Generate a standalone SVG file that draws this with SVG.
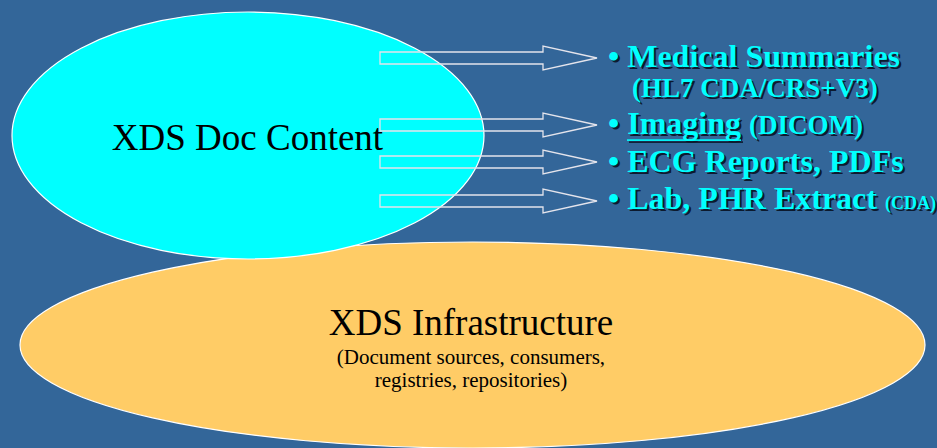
<svg xmlns="http://www.w3.org/2000/svg" xmlns:xlink="http://www.w3.org/1999/xlink" width="937" height="448" viewBox="0 0 937 448">
<style>
.bg{fill:#336699}
.ell{stroke:#ffffff;stroke-width:1.2}
.title{font-family:"Liberation Serif","Times New Roman",serif;fill:#000;text-anchor:middle}
.arrow{fill:none;stroke:#e4e4ec;stroke-width:1.3}
.item{font-family:"Liberation Serif","Times New Roman",serif;font-weight:bold;font-size:32px;fill:#00ffff}
.sh{fill:#0d1a2e}
.sm{font-size:27px}
.xs{font-size:18px}
</style>
<defs>
<g id="items">
<text x="608" y="67">• Medical Summaries</text>
<text x="632" y="97" class="sm">(HL7 CDA/CRS+V3)</text>
<text x="608" y="134">• Imaging <tspan class="sm">(DICOM)</tspan></text>
<rect x="627" y="139.3" width="114" height="1.6"/>
<text x="608" y="172">• ECG Reports, PDFs</text>
<text x="608" y="209">• Lab, PHR Extract <tspan class="xs">(CDA)</tspan></text>
</g>
</defs>
<rect class="bg" x="0" y="0" width="937" height="448"/>
<g id="infrastructure">
<ellipse class="ell" cx="472.5" cy="345" rx="452.5" ry="103" fill="#ffcc66"/>
<text class="title" x="471" y="335" font-size="37">XDS Infrastructure</text>
<text class="title" x="471" y="364" font-size="21">(Document sources, consumers,</text>
<text class="title" x="471" y="387" font-size="21">registries, repositories)</text>
</g>
<g id="doc-content">
<ellipse class="ell" cx="248" cy="135.5" rx="236" ry="123.5" fill="#00ffff"/>
<text class="title" x="247.5" y="150" font-size="37">XDS Doc Content</text>
</g>
<g id="connectors">
<polygon class="arrow" points="380,52 543,52 543,46 597,58 543,70 543,64 380,64"/>
<polygon class="arrow" points="380,119 543,119 543,113 597,125 543,137 543,131 380,131"/>
<polygon class="arrow" points="380,156 543,156 543,150 597,162 543,174 543,168 380,168"/>
<polygon class="arrow" points="380,195 543,195 543,189 597,201 543,213 543,207 380,207"/>
</g>
<g id="content-list" class="item">
<use xlink:href="#items" class="sh" transform="translate(2,2)"/>
<use xlink:href="#items"/>
</g>
</svg>
